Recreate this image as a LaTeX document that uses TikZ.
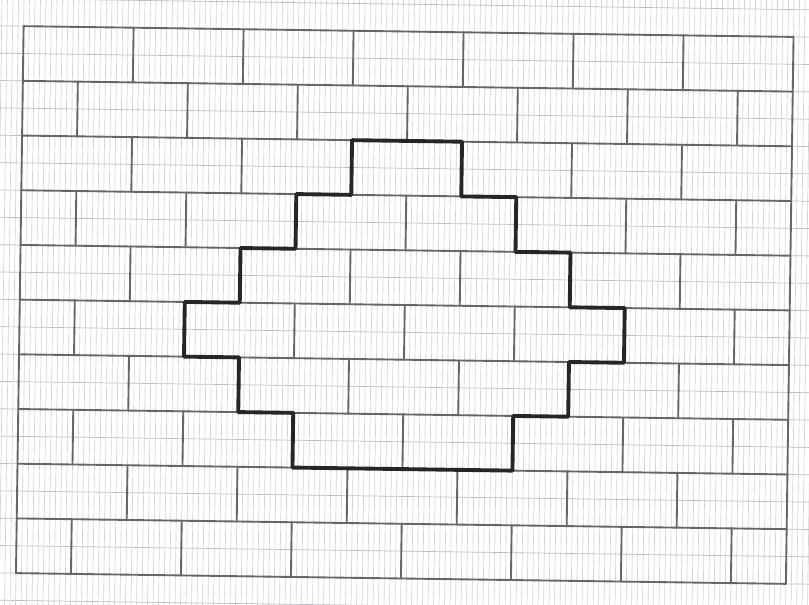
\documentclass[tikz,border=0pt]{standalone}
\usetikzlibrary{calc}

\definecolor{paperline}{RGB}{210,210,214}
\definecolor{paperrule}{RGB}{188,190,198}

\begin{document}
\begin{tikzpicture}[
  x=16.5mm, y=-16.41mm,
  gridv/.style={draw=paperline,line width=0.55pt},
  gridh/.style={draw=paperrule,line width=0.6pt},
  brick/.style={draw=black!60,line width=1.6pt,line cap=round},
  outline/.style={draw=black!85,line width=3.3pt,line join=round,line cap=round},
]

% page frame (809 x 605)
\useasboundingbox (0,0) rectangle (14.709,11.060);
\clip (0,0) rectangle (14.709,11.060);
\fill[white] (0,0) rectangle (14.709,11.060);

\begin{scope}[shift={(0.359,0.576)},rotate around={-0.8:(7,5)}]

% === GRAPH PAPER ===
\foreach \k in {-20,...,170}
  \draw[gridv] (\k/10,-2) -- (\k/10,13);
\foreach \k in {-4,...,26}
  \draw[gridh] (-2,\k/2) -- (17,\k/2);

% === WALL ===
\foreach \j in {0,...,10}
  \draw[brick] (0,\j) -- (14,\j);
\draw[brick] (0,0) -- (0,10) (14,0) -- (14,10);

% joints, running bond
\foreach \j in {0,2,...,8}
  \foreach \i in {2,4,...,12}
    \draw[brick] (\i,\j) -- ++(0,1);
\foreach \j in {1,3,...,9}
  \foreach \i in {1,3,...,13}
    \draw[brick] (\i,\j) -- ++(0,1);

% === STEPPED OUTLINE ===
\draw[outline] (6,2) -| (8,3) -| (9,4) -| (10,5) -| (11,6) -| (10,7) -| (9,8)
  -| (5,7) -| (4,6) -| (3,5) -| (4,4) -| (5,3) -- (6,3) -- cycle;

\end{scope}

\end{tikzpicture}
\end{document}
